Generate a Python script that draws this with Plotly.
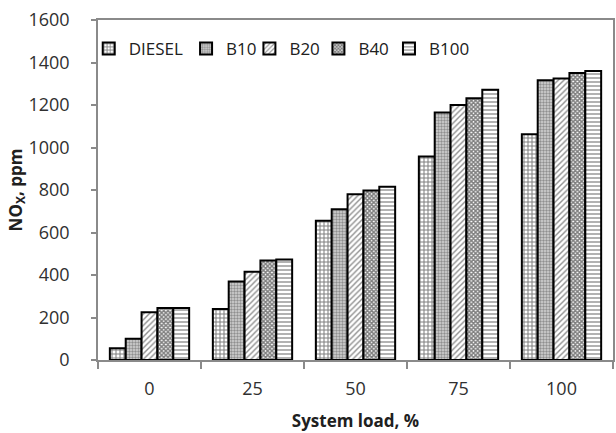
import plotly.graph_objects as go

categories = ["0", "25", "50", "75", "100"]
series_names = ["DIESEL", "B10", "B20", "B40", "B100"]
diesel = [55, 240, 655, 958, 1062]
b10 = [100, 370, 710, 1165, 1316]
b20 = [225, 415, 780, 1200, 1325]
b40 = [245, 468, 798, 1232, 1351]
b100 = [245, 473, 815, 1272, 1360]
y_ticks = [0, 200, 400, 600, 800, 1000, 1200, 1400, 1600]

values = [diesel, b10, b20, b40, b100]
patterns = [
    dict(shape="+", size=4, solidity=0.45, fgcolor="black", bgcolor="white"),
    dict(shape=".", size=3, solidity=0.5, fgcolor="#4a4a4a", bgcolor="#d4d4d4"),
    dict(shape="/", size=4, solidity=0.35, fgcolor="#202020", bgcolor="white"),
    dict(shape="x", size=3, solidity=0.75, fgcolor="black", bgcolor="white"),
    dict(shape="-", size=4, solidity=0.35, fgcolor="#202020", bgcolor="white"),
]
legend_ids = ["legend", "legend2", "legend3", "legend4", "legend5"]
legend_x = [-0.018, 0.171, 0.294, 0.428, 0.565]

fig = go.Figure()
for name, vals, pat, lid in zip(series_names, values, patterns, legend_ids):
    fig.add_trace(go.Bar(
        name=name, x=categories, y=vals, legend=lid,
        marker=dict(color="white", line=dict(color="black", width=2), pattern=pat),
    ))

font_family = "Open Sans"
legend_common = dict(orientation="h", y=0.915, xanchor="left", yanchor="middle",
                     font=dict(size=17, color="#202020"), bgcolor="rgba(0,0,0,0)",
                     itemwidth=30)
layout_legends = {lid: dict(x=lx, **legend_common) for lid, lx in zip(legend_ids, legend_x)}

fig.update_layout(
    width=616, height=433,
    margin=dict(l=98, r=1, t=20, b=73),
    paper_bgcolor="white", plot_bgcolor="white",
    barmode="group", bargap=0.23, bargroupgap=0,
    font=dict(family=font_family, size=16, color="#303030"),
    showlegend=True,
    xaxis=dict(
        type="category", showline=True, linecolor="#8a8a8a", linewidth=1.5,
        mirror=True, ticks="outside", tickson="boundaries", ticklen=7,
        tickcolor="#8a8a8a", tickwidth=1.5, showgrid=False,
        tickfont=dict(size=18, color="#303030"), ticklabelstandoff=12,
        title=dict(text="<b>System load, %</b>", font=dict(size=17, color="#202020"), standoff=16),
    ),
    yaxis=dict(
        range=[0, 1600], tickvals=y_ticks, showline=True, linecolor="#8a8a8a",
        linewidth=1.5, mirror=True, ticks="outside", ticklen=5, tickcolor="#8a8a8a",
        tickwidth=1.5, showgrid=False, zeroline=False,
        tickfont=dict(size=18, color="#303030"), ticklabelstandoff=18,
        title=dict(text="<b>NO<sub>X</sub>, ppm</b>", font=dict(size=17, color="#202020"), standoff=1),
    ),
    **layout_legends,
)

fig.write_html(
    "out.html",
    config={"displayModeBar": False},
    post_script="document.body.style.margin='0';document.body.style.padding='0';",
)
